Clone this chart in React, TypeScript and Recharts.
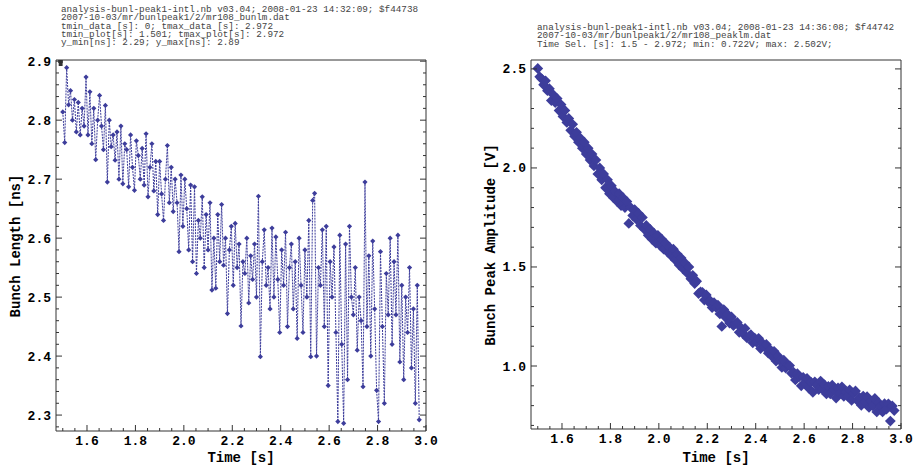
import React from "react";
import { LineChart, Line, ScatterChart, Scatter, XAxis, YAxis } from "recharts";

// sample times [s], shared by both files (mr108_bunlm / mr108_peaklm)
const TIME = [
  1.5, 1.508, 1.516, 1.524, 1.532, 1.54, 1.548, 1.556, 1.564, 1.572,
  1.58, 1.588, 1.596, 1.604, 1.612, 1.62, 1.628, 1.636, 1.644, 1.652,
  1.66, 1.668, 1.676, 1.684, 1.692, 1.7, 1.708, 1.716, 1.724, 1.732,
  1.74, 1.748, 1.756, 1.764, 1.772, 1.78, 1.788, 1.796, 1.804, 1.812,
  1.82, 1.828, 1.836, 1.844, 1.852, 1.86, 1.868, 1.876, 1.884, 1.892,
  1.9, 1.908, 1.916, 1.924, 1.932, 1.94, 1.948, 1.956, 1.964, 1.972,
  1.98, 1.988, 1.996, 2.004, 2.012, 2.02, 2.028, 2.036, 2.044, 2.052,
  2.06, 2.068, 2.076, 2.084, 2.092, 2.1, 2.108, 2.116, 2.124, 2.132,
  2.14, 2.148, 2.156, 2.164, 2.172, 2.18, 2.188, 2.196, 2.204, 2.212,
  2.22, 2.228, 2.236, 2.244, 2.252, 2.26, 2.268, 2.276, 2.284, 2.292,
  2.3, 2.308, 2.316, 2.324, 2.332, 2.34, 2.348, 2.356, 2.364, 2.372,
  2.38, 2.388, 2.396, 2.404, 2.412, 2.42, 2.428, 2.436, 2.444, 2.452,
  2.46, 2.468, 2.476, 2.484, 2.492, 2.5, 2.508, 2.516, 2.524, 2.532,
  2.54, 2.548, 2.556, 2.564, 2.572, 2.58, 2.588, 2.596, 2.604, 2.612,
  2.62, 2.628, 2.636, 2.644, 2.652, 2.66, 2.668, 2.676, 2.684, 2.692,
  2.7, 2.708, 2.716, 2.724, 2.732, 2.74, 2.748, 2.756, 2.764, 2.772,
  2.78, 2.788, 2.796, 2.804, 2.812, 2.82, 2.828, 2.836, 2.844, 2.852,
  2.86, 2.868, 2.876, 2.884, 2.892, 2.9, 2.908, 2.916, 2.924, 2.932,
  2.94, 2.948, 2.956, 2.964, 2.972,
];

// bunch length [ns]
const BUNCH_LENGTH = [
  2.814, 2.762, 2.889, 2.826, 2.85, 2.8, 2.835, 2.78, 2.83, 2.775,
  2.82, 2.79, 2.873, 2.775, 2.848, 2.76, 2.82, 2.733, 2.8, 2.842,
  2.79, 2.75, 2.825, 2.695, 2.8, 2.755, 2.775, 2.732, 2.78, 2.7,
  2.79, 2.692, 2.76, 2.75, 2.687, 2.775, 2.72, 2.681, 2.765, 2.74,
  2.7, 2.752, 2.69, 2.777, 2.67, 2.72, 2.76, 2.68, 2.73, 2.64,
  2.73, 2.675, 2.63, 2.7, 2.757, 2.66, 2.72, 2.645, 2.7, 2.66,
  2.577, 2.707, 2.62, 2.7, 2.65, 2.58, 2.69, 2.56, 2.687, 2.54,
  2.63, 2.6, 2.67, 2.55, 2.64, 2.58, 2.66, 2.512, 2.6, 2.515,
  2.64, 2.56, 2.657, 2.554, 2.6, 2.472, 2.58, 2.62, 2.52, 2.625,
  2.55, 2.59, 2.451, 2.56, 2.54, 2.6, 2.49, 2.57, 2.53, 2.59,
  2.5, 2.671, 2.399, 2.56, 2.614, 2.52, 2.55, 2.48, 2.617, 2.5,
  2.602, 2.53, 2.44, 2.58, 2.52, 2.61, 2.45, 2.55, 2.59, 2.48,
  2.56, 2.43, 2.6, 2.52, 2.44, 2.58, 2.5, 2.63, 2.399, 2.664,
  2.676, 2.4, 2.55, 2.52, 2.614, 2.45, 2.62, 2.35, 2.56, 2.5,
  2.585, 2.44, 2.289, 2.605, 2.42, 2.286, 2.59, 2.36, 2.62, 2.5,
  2.47, 2.55, 2.41, 2.5, 2.46, 2.348, 2.695, 2.45, 2.57, 2.4,
  2.595, 2.48, 2.342, 2.289, 2.577, 2.45, 2.32, 2.54, 2.47, 2.6,
  2.42, 2.56, 2.47, 2.605, 2.39, 2.52, 2.36, 2.5, 2.44, 2.55,
  2.38, 2.48, 2.32, 2.52, 2.292,
];

// bunch peak amplitude [V]
const PEAK_AMPLITUDE = [
  2.502, 2.46, 2.45, 2.42, 2.44, 2.39, 2.4, 2.34, 2.37, 2.33,
  2.35, 2.29, 2.32, 2.26, 2.29, 2.23, 2.25, 2.19, 2.22, 2.16,
  2.18, 2.13, 2.15, 2.1, 2.13, 2.07, 2.1, 2.04, 2.07, 2.01,
  2.04, 1.97, 2.0, 1.94, 1.97, 1.9, 1.94, 1.87, 1.91, 1.85,
  1.88, 1.83, 1.87, 1.81, 1.85, 1.8, 1.83, 1.72, 1.8, 1.76,
  1.79, 1.74, 1.77, 1.71, 1.75, 1.69, 1.71, 1.66, 1.69, 1.64,
  1.67, 1.62, 1.66, 1.61, 1.64, 1.59, 1.62, 1.575, 1.6, 1.555,
  1.59, 1.535, 1.565, 1.51, 1.545, 1.49, 1.52, 1.47, 1.5, 1.44,
  1.458, 1.416, 1.428, 1.366, 1.374, 1.372, 1.333, 1.359, 1.325, 1.33,
  1.295, 1.32, 1.296, 1.307, 1.263, 1.2, 1.285, 1.245, 1.261, 1.217,
  1.248, 1.204, 1.215, 1.22, 1.17, 1.192, 1.163, 1.19, 1.142, 1.15,
  1.158, 1.117, 1.141, 1.12, 1.14, 1.088, 1.115, 1.097, 1.109, 1.065,
  1.082, 1.048, 1.074, 1.025, 1.051, 1.027, 0.993, 1.029, 0.99, 1.006,
  1.002, 0.963, 0.969, 0.93, 0.961, 0.947, 0.9, 0.943, 0.912, 0.937,
  0.887, 0.919, 0.867, 0.92, 0.903, 0.881, 0.924, 0.882, 0.905, 0.859,
  0.897, 0.86, 0.903, 0.88, 0.838, 0.89, 0.862, 0.895, 0.847, 0.87,
  0.847, 0.88, 0.827, 0.863, 0.874, 0.825, 0.841, 0.802, 0.848, 0.819,
  0.845, 0.791, 0.823, 0.799, 0.836, 0.768, 0.815, 0.797, 0.768, 0.81,
  0.782, 0.809, 0.722, 0.798, 0.775,
];

const X_MAJOR = [1.6, 1.8, 2.0, 2.2, 2.4, 2.6, 2.8, 3.0];
const X_LABELS = ["1.6", "1.8", "2.0", "2.2", "2.4", "2.6", "2.8", "3.0"];
const LEN_MAJOR = [2.3, 2.4, 2.5, 2.6, 2.7, 2.8, 2.9];
const LEN_LABELS = ["2.3", "2.4", "2.5", "2.6", "2.7", "2.8", "2.9"];
const AMP_MAJOR = [1.0, 1.5, 2.0, 2.5];
const AMP_LABELS = ["1.0", "1.5", "2.0", "2.5"];

const TITLE_LEFT = [
  "analysis-bunl-peak1-intl.nb v03.04; 2008-01-23 14:32:09; $f44738",
  "2007-10-03/mr/bunlpeak1/2/mr108_bunlm.dat",
  "tmin_data [s]: 0; tmax_data [s]: 2.972",
  "tmin_plot[s]: 1.501; tmax_plot[s]: 2.972",
  "y_min[ns]: 2.29; y_max[ns]: 2.89",
];
const TITLE_RIGHT = [
  "analysis-bunl-peak1-intl.nb v03.04; 2008-01-23 14:36:08; $f44742",
  "2007-10-03/mr/bunlpeak1/2/mr108_peaklm.dat",
  "Time Sel. [s]: 1.5 - 2.972; min: 0.722V; max: 2.502V;",
];

const BLUE = "#3d3d9b";
const FRAME = "#333";
const MONO = "'Liberation Mono', 'DejaVu Sans Mono', monospace";
const T_DOMAIN = [1.472, 3.0];

// minor tick positions
function steps(from: number, to: number, step: number) {
  const out: number[] = [];
  for (let v = from; v <= to + 1e-9; v += step) out.push(Math.round(v * 1000) / 1000);
  return out;
}
const X_MINOR = steps(1.5, 3.0, 0.05);
const LEN_MINOR = steps(2.28, 2.9, 0.02);
const AMP_MINOR = steps(0.7, 2.5, 0.1);

const lengthRows = TIME.map((t, i) => ({ t, v: BUNCH_LENGTH[i] }));
const ampRows = TIME.map((t, i) => ({ t, v: PEAK_AMPLITUDE[i] }));

type Side = "bottom" | "top" | "left" | "right";

function makeTick(side: Side, majors: number[], labels?: string[]) {
  return (props: any) => {
    const { x, y, payload } = props;
    const idx = majors.findIndex((m) => Math.abs(m - payload.value) < 1e-6);
    const len = idx >= 0 ? 6 : 3;
    let line;
    if (side === "bottom") line = <line x1={x} y1={y} x2={x} y2={y - len} />;
    else if (side === "top") line = <line x1={x} y1={y} x2={x} y2={y + len} />;
    else if (side === "left") line = <line x1={x} y1={y} x2={x + len} y2={y} />;
    else line = <line x1={x} y1={y} x2={x - len} y2={y} />;
    let label = null;
    if (labels && idx >= 0) {
      const common = { fontFamily: MONO, fontWeight: 700, fontSize: 13, fill: "#000" };
      label =
        side === "bottom" ? (
          <text x={x} y={y + 14} textAnchor="middle" {...common}>{labels[idx]}</text>
        ) : (
          <text x={x - 5} y={y + 4.5} textAnchor="end" {...common}>{labels[idx]}</text>
        );
    }
    return (
      <g>
        <g stroke={FRAME} strokeWidth={1}>{line}</g>
        {label}
      </g>
    );
  };
}

const smallDot = (p: any) => {
  const { cx, cy } = p;
  const r = 2.6;
  return (
    <polygon
      key={`d${p.index}`}
      points={`${cx},${cy - r} ${cx + r},${cy} ${cx},${cy + r} ${cx - r},${cy}`}
      fill={BLUE}
      stroke="none"
    />
  );
};

const bigDiamond = (p: any) => {
  const { cx, cy } = p;
  const r = 5.4;
  return (
    <polygon
      points={`${cx},${cy - r} ${cx + r},${cy} ${cx},${cy + r} ${cx - r},${cy}`}
      fill={BLUE}
      stroke="none"
    />
  );
};

function Frame({ yMinor, yMajor, yLabels, yDomain }: any) {
  return [
    <XAxis
      key="xb"
      xAxisId="b"
      type="number"
      dataKey="t"
      domain={T_DOMAIN}
      allowDataOverflow
      ticks={X_MINOR}
      interval={0}
      height={20}
      tickSize={0}
      tickMargin={0}
      tickLine={false}
      axisLine={{ stroke: FRAME }}
      tick={makeTick("bottom", X_MAJOR, X_LABELS)}
    />,
    <XAxis
      key="xt"
      xAxisId="t"
      orientation="top"
      type="number"
      domain={T_DOMAIN}
      allowDataOverflow
      ticks={X_MINOR}
      interval={0}
      height={1}
      tickSize={0}
      tickMargin={0}
      tickLine={false}
      axisLine={{ stroke: FRAME }}
      tick={makeTick("top", X_MAJOR)}
    />,
    <YAxis
      key="yl"
      yAxisId="l"
      type="number"
      dataKey="v"
      domain={yDomain}
      allowDataOverflow
      ticks={yMinor}
      interval={0}
      width={30}
      tickSize={0}
      tickMargin={0}
      tickLine={false}
      axisLine={{ stroke: FRAME }}
      tick={makeTick("left", yMajor, yLabels)}
    />,
    <YAxis
      key="yr"
      yAxisId="r"
      orientation="right"
      type="number"
      domain={yDomain}
      allowDataOverflow
      ticks={yMinor}
      interval={0}
      width={1}
      tickSize={0}
      tickMargin={0}
      tickLine={false}
      axisLine={{ stroke: FRAME }}
      tick={makeTick("right", yMajor)}
    />,
  ];
}

const titleStyle: React.CSSProperties = {
  position: "absolute",
  fontFamily: MONO,
  fontSize: 9.3,
  lineHeight: "8.3px",
  color: "#444",
  whiteSpace: "pre",
};

const axisLabel: React.CSSProperties = {
  position: "absolute",
  fontFamily: MONO,
  fontWeight: 700,
  fontSize: 14,
  color: "#000",
  whiteSpace: "nowrap",
  transform: "translate(-50%, -50%)",
};

export default function App() {
  return (
    <div style={{ position: "absolute", left: 0, top: 0, width: 913, height: 469, background: "#fff", overflow: "hidden" }}>
      <div style={{ ...titleStyle, left: 61, top: 6 }}>{TITLE_LEFT.join("\n")}</div>
      <div style={{ ...titleStyle, left: 537, top: 24 }}>{TITLE_RIGHT.join("\n")}</div>

      <div style={{ position: "absolute", left: 0, top: 0 }}>
        <LineChart width={440} height={469} data={lengthRows} margin={{ top: 59, left: 26, right: 13, bottom: 18 }}>
          {Frame({ yMinor: LEN_MINOR, yMajor: LEN_MAJOR, yLabels: LEN_LABELS, yDomain: [2.273, 2.902] })}
          <Line
            xAxisId="b"
            yAxisId="l"
            dataKey="v"
            stroke={BLUE}
            strokeWidth={1}
            strokeDasharray="2 1"
            dot={smallDot}
            activeDot={false}
            isAnimationActive={false}
          />
        </LineChart>
      </div>

      <div style={{ position: "absolute", left: 460, top: 0 }}>
        <ScatterChart width={453} height={469} margin={{ top: 59, left: 41, right: 11, bottom: 20 }}>
          {Frame({ yMinor: AMP_MINOR, yMajor: AMP_MAJOR, yLabels: AMP_LABELS, yDomain: [0.682, 2.545] })}
          <Scatter xAxisId="b" yAxisId="l" data={ampRows} dataKey="v" shape={bigDiamond} isAnimationActive={false} />
        </ScatterChart>
      </div>

      <div style={{ ...axisLabel, left: 241, top: 458 }}>Time [s]</div>
      <div style={{ ...axisLabel, left: 716, top: 458 }}>Time [s]</div>
      <div style={{ ...axisLabel, left: 16, top: 246, transform: "translate(-50%, -50%) rotate(-90deg)" }}>Bunch Length [ns]</div>
      <div style={{ ...axisLabel, left: 491, top: 245, transform: "translate(-50%, -50%) rotate(-90deg)" }}>Bunch Peak Amplitude [V]</div>
    </div>
  );
}
